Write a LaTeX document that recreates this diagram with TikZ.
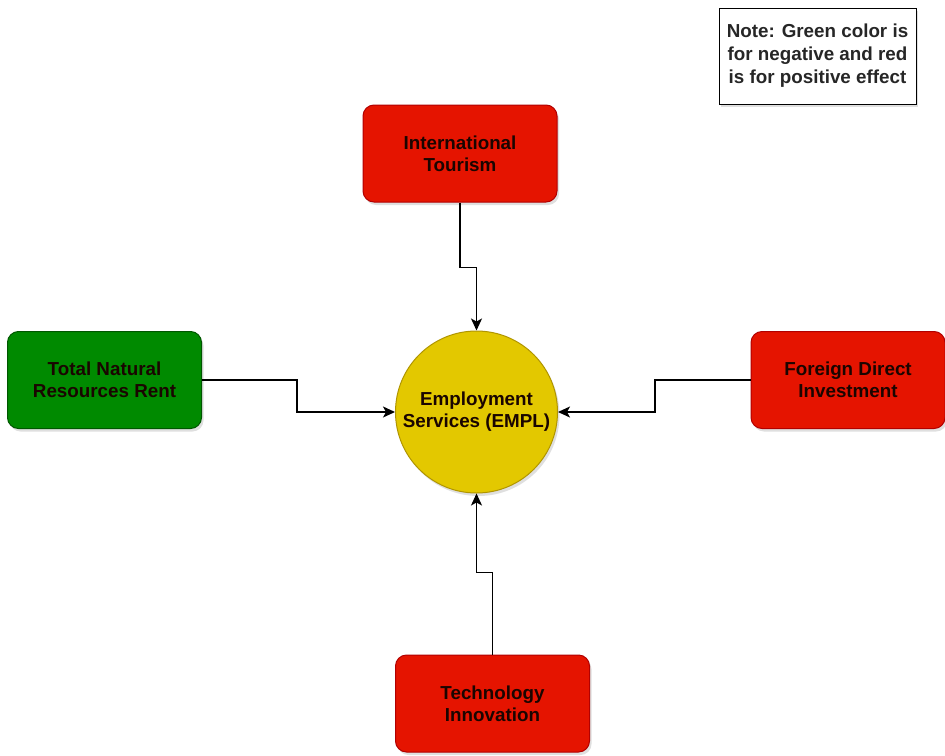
\documentclass[tikz,border=0pt]{standalone}
\usepackage{fontspec}
\setmainfont{Liberation Sans}
\usetikzlibrary{arrows.meta,shadows}
\definecolor{redfill}{HTML}{E51400}
\definecolor{redline}{HTML}{B20000}
\definecolor{greenfill}{HTML}{008A00}
\definecolor{greenline}{HTML}{005700}
\definecolor{yelfill}{HTML}{E3C800}
\definecolor{yelline}{HTML}{B09500}
\definecolor{txt}{HTML}{1A0500}
\tikzset{
  lbl/.style={align=center, font=\fontsize{18.8}{22}\selectfont\bfseries, text=txt},
  box/.style={lbl, rounded corners=11pt, minimum width=194pt, minimum height=97pt, line width=1pt,
    drop shadow={shadow xshift=2pt, shadow yshift=-3pt, opacity=0.25, fill=gray}},
  redbox/.style={box, fill=redfill, draw=redline},
  greenbox/.style={box, fill=greenfill, draw=greenline},
  hub/.style={lbl, circle, minimum size=162pt, fill=yelfill, draw=yelline, line width=1pt, inner sep=0pt,
    drop shadow={shadow xshift=2pt, shadow yshift=-3pt, opacity=0.25, fill=gray}},
  note/.style={draw=black, fill=white, line width=1pt, minimum width=197pt, minimum height=96pt,
    align=center, font=\fontsize{18.8}{23}\selectfont\bfseries, text=black!85,
    drop shadow={shadow xshift=2pt, shadow yshift=-3pt, opacity=0.25, fill=gray}},
  conn/.style={line width=1.4pt, -{Stealth[length=12pt,width=11pt,inset=3pt]}},
}
\begin{document}
\begin{tikzpicture}[x=1pt,y=-1pt]
\useasboundingbox (0,0) rectangle (945,755);
\fill[white] (0,0) rectangle (945,755);
\node[note] (note) at (817.5,56) {Note: Green color is\\for negative and red\\is for positive effect};
\node[redbox] (tour) at (460,153.5) {International\\Tourism};
\node[greenbox] (nat) at (104.5,380) {Total Natural\\Resources Rent};
\node[redbox] (fdi) at (848,380) {Foreign Direct\\Investment};
\node[redbox] (tech) at (492.5,703.5) {Technology\\Innovation};
\node[hub] (empl) at (476.5,412) {Employment\\Services (EMPL)};
\draw[conn] (tour.south) -- ++(0,65) -| (empl.north);
\draw[conn] (nat.east) -- (297,380) |- (empl.west);
\draw[conn] (fdi.west) -- (655,380) |- (empl.east);
\draw[conn] (tech.north) -- ++(0,-82) -| (empl.south);
\end{tikzpicture}
\end{document}
